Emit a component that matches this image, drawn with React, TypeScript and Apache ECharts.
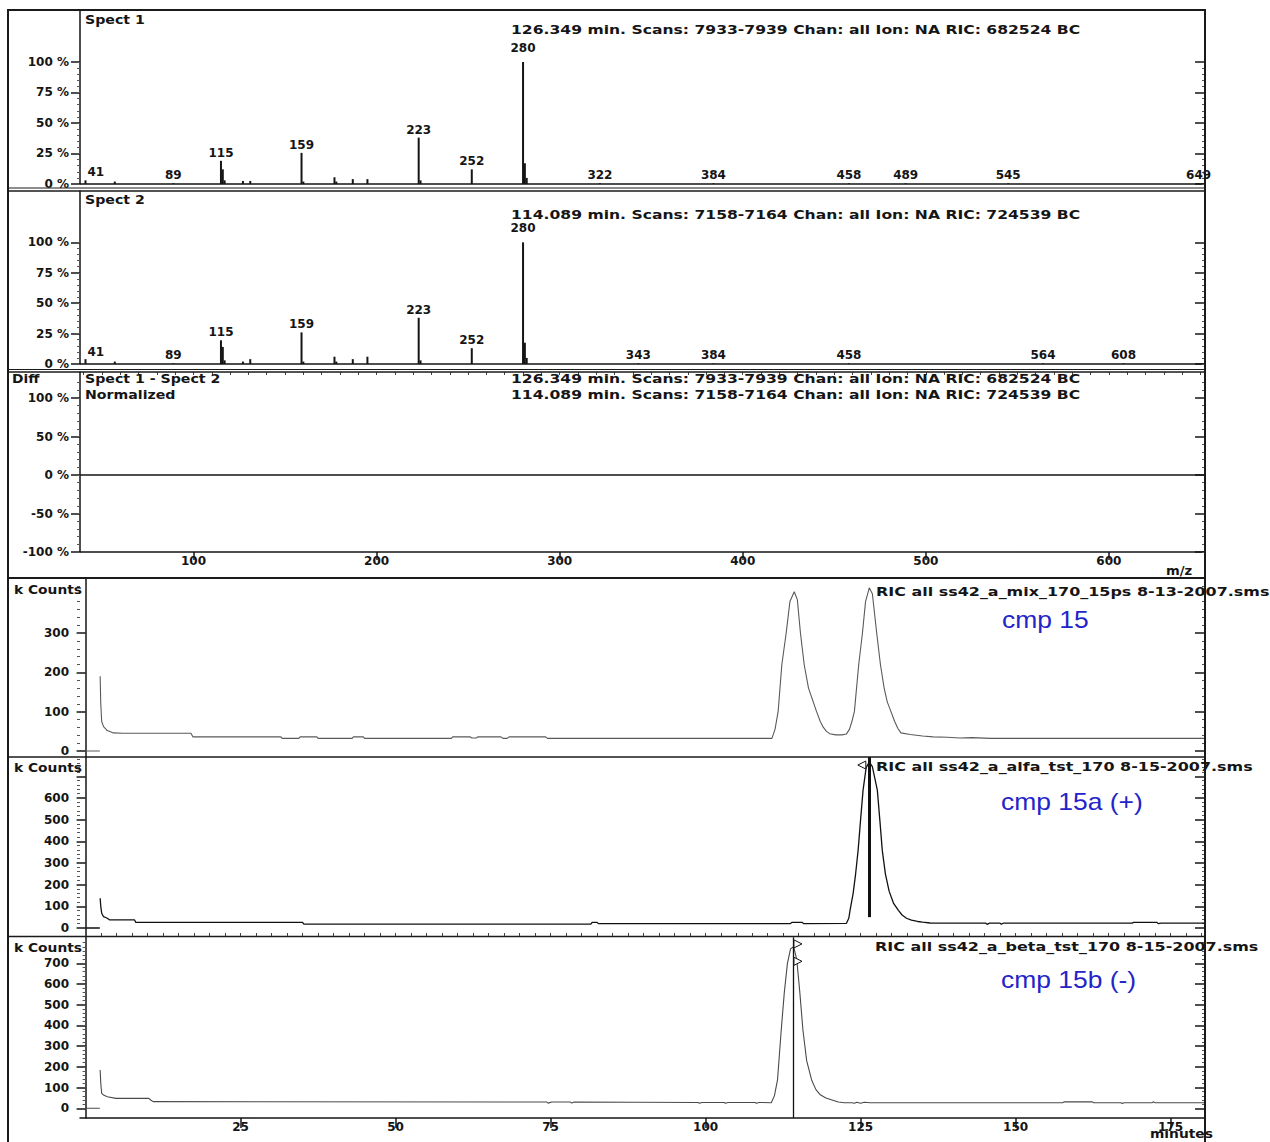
import React, { useEffect, useRef } from "react";
import * as echarts from "echarts";

// ---------- Mass spectra (m/z, relative abundance %) ----------
const spect1Mz = [41, 57, 89, 115, 116, 117, 127, 131, 159, 160, 177, 178, 187, 195, 223, 224, 252, 280, 281, 282, 322, 384, 458, 489, 545, 649];
const spect1Pct = [3, 2, 0.6, 19, 12, 3, 2.5, 2.5, 25.5, 2, 5.5, 2, 4, 4, 38, 3, 12, 100, 17, 5, 0.6, 0.6, 0.6, 0.6, 0.6, 0.6];
const spect1Labels = [41, 89, 115, 159, 223, 252, 280, 322, 384, 458, 489, 545, 649];

const spect2Mz = [41, 57, 89, 115, 116, 117, 127, 131, 159, 160, 177, 178, 187, 195, 223, 224, 252, 280, 281, 282, 343, 384, 458, 564, 608];
const spect2Pct = [4, 2, 0.6, 19.5, 14, 3, 2, 4, 26, 2, 6, 2, 4, 6, 38, 3, 13, 100, 17.5, 5, 0.6, 0.6, 0.6, 0.6, 0.6];
const spect2Labels = [41, 89, 115, 159, 223, 252, 280, 343, 384, 458, 564, 608];

// Difference spectrum (Spect 1 - Spect 2, normalized): zero everywhere
const diffMz = [38, 652.5];
const diffPct = [0, 0];

// ---------- Chromatograms: [minutes, kCounts] ----------
const cmp15Trace: any[] = [
  [0, 0], [2.3, 0], [2.32, "-"], [2.35, 190], [2.45, 120], [2.6, 75], [2.9, 62], [3.5, 52], [4.5, 46], [6, 45],
  [17, 45], [17.3, 36], [31.5, 36], [31.7, 32], [34.4, 32], [34.6, 36], [37.3, 36], [37.5, 32], [43, 32], [43.2, 36],
  [44.8, 36], [45, 32], [59, 32], [59.2, 36], [62, 36], [62.3, 33], [63, 33], [63.3, 36], [67, 36], [67.3, 32],
  [68, 32], [68.3, 36], [74.2, 36], [74.5, 32], [110.7, 32], [111.2, 55], [111.7, 100], [112.3, 220], [113, 300],
  [113.6, 380], [114.3, 405], [114.8, 385], [115.3, 300], [115.9, 220], [116.6, 160], [117.9, 100], [118.5, 75],
  [119, 60], [119.5, 50], [120, 44], [121, 41], [122, 41], [122.7, 43], [123.2, 55], [123.6, 75], [124, 100],
  [124.7, 220], [125.3, 300], [125.8, 380], [126.4, 415], [126.9, 400], [127.6, 300], [128.2, 220], [128.8, 160],
  [129.3, 125], [129.9, 100], [130.5, 75], [131, 58], [131.5, 46], [133, 42], [135, 38], [136.7, 36], [139, 35],
  [141, 33], [143, 34], [146, 32], [180.5, 32],
];

const cmp15aTrace: any[] = [
  [0, 0], [2.3, 0], [2.32, "-"], [2.35, 137], [2.45, 100], [2.6, 68], [2.9, 52], [3.5, 45], [3.9, 37], [7.9, 37],
  [8.1, 26], [35, 26], [35.2, 18], [81.5, 18], [81.7, 26], [82.5, 26], [82.7, 20], [113.7, 20], [113.9, 26],
  [115.6, 26], [115.8, 20], [122.7, 21], [123.1, 45], [123.3, 81], [123.8, 160], [124.2, 250], [124.6, 358],
  [125, 500], [125.4, 636], [125.9, 740], [126.4, 766], [126.9, 745], [127.3, 690], [127.7, 636], [128.1, 500],
  [128.5, 358], [129, 250], [129.6, 170], [130.3, 115], [131.1, 81], [131.7, 60], [132.4, 45], [133.2, 36],
  [134.2, 30], [135, 27], [136.2, 23], [145.2, 22], [145.4, 17], [145.8, 22], [147.5, 22], [147.7, 17], [148, 22],
  [168.8, 22], [169, 26], [172.8, 26], [173, 20], [173.5, 22], [180.5, 22],
];

const cmp15bTrace: any[] = [
  [0, 0], [2.3, 0], [2.32, "-"], [2.35, 185], [2.45, 121], [2.6, 72], [2.9, 64], [3.5, 56], [4.9, 48], [10.2, 48],
  [10.5, 40], [10.9, 32], [74.4, 30], [74.6, 25], [75.2, 30], [78.2, 30], [78.4, 25], [78.8, 30], [98.8, 28],
  [99, 24], [99.4, 28], [103, 28], [103.2, 24], [103.6, 28], [108, 28], [108.2, 24], [108.6, 28], [110.6, 27],
  [111.1, 60], [111.6, 137], [112.2, 378], [112.7, 560], [113.2, 700], [113.7, 770], [114.2, 780], [114.7, 720],
  [115.2, 560], [115.7, 378], [116.3, 230], [117.1, 137], [117.8, 90], [118.5, 65], [119.4, 50], [120.4, 40],
  [121.4, 30], [122.4, 27], [123.6, 27], [124, 24], [124.4, 29], [125, 24], [125.6, 29], [126.5, 27], [153.4, 27],
  [157.6, 27], [157.8, 31], [162.4, 31], [162.6, 27], [167, 27], [167.2, 23], [167.5, 27], [172, 27], [172.2, 31],
  [172.5, 27], [180.5, 27],
];

const markerTime15a = 126.349;
const markerTime15b = 114.089;

// ---------- Tick labels ----------
const pctTicksSpect = [0, 25, 50, 75, 100];
const pctTicksDiff = [-100, -50, 0, 50, 100];
const mzTicks = [100, 200, 300, 400, 500, 600];
const timeTicks = [25, 50, 75, 100, 125, 150, 175];
const kTicks15 = [0, 100, 200, 300];
const kTicks15a = [0, 100, 200, 300, 400, 500, 600, 700];
const kLabels15a = [0, 100, 200, 300, 400, 500, 600];
const kTicks15b = [0, 100, 200, 300, 400, 500, 600, 700];

const hdr1 = "126.349 min. Scans: 7933-7939 Chan: all Ion: NA RIC: 682524 BC";
const hdr2 = "114.089 min. Scans: 7158-7164 Chan: all Ion: NA RIC: 724539 BC";

const SW = '"DejaVu Sans", sans-serif';
const INK = "#151515";

function steps(a: number, b: number, s: number) {
  const out: number[] = [];
  for (let v = a; v <= b + 1e-9; v += s) out.push(Math.round(v * 100) / 100);
  return out;
}

function yAxes(g: number, min: number, max: number, majors: number[], labels: number[], minors: number[], fmt: (v: number) => string) {
  const base: any = {
    type: "value", gridIndex: g, min, max,
    splitLine: { show: false }, axisLabel: { show: false }, axisTick: { show: false }, axisLine: { show: false },
  };
  return [
    {
      ...base, position: "left",
      axisLine: { show: true, lineStyle: { color: INK, width: 1.5 } },
      axisTick: { show: true, customValues: majors, length: 9, lineStyle: { color: INK, width: 1.5 } },
      axisLabel: { show: true, customValues: labels, formatter: fmt, margin: 11, color: INK, fontFamily: SW, fontWeight: "bold", fontSize: 12 },
    },
    { ...base, position: "left", axisTick: { show: true, customValues: minors, length: 3, lineStyle: { color: "#555", width: 1 } } },
    { ...base, position: "right", axisTick: { show: true, inside: true, customValues: majors, length: 10, lineStyle: { color: INK, width: 1.5 } } },
    { ...base, position: "right", axisTick: { show: true, inside: true, customValues: minors, length: 3, lineStyle: { color: "#555", width: 1 } } },
  ];
}

function spectrumSeries(mz: number[], pct: number[], labels: number[], g: number) {
  const set = new Set(labels);
  return {
    type: "bar", xAxisIndex: g, yAxisIndex: g * 4, barWidth: 2, z: 3,
    itemStyle: { color: INK },
    label: {
      show: true, position: "top", distance: 2, color: INK, fontFamily: SW, fontWeight: "bold", fontSize: 12,
      formatter: (p: any) => (set.has(p.value[0]) ? String(p.value[0]) : ""),
    },
    data: mz.map((m, i) => {
      const item: any = { value: [m, pct[i]] };
      if (m === labels[0]) item.label = { position: "right", distance: 1, offset: [0, -10] };
      if (pct[i] === 100) item.label = { distance: 8 };
      return item;
    }),
  };
}

export default function App() {
  const ref = useRef<HTMLDivElement>(null);
  useEffect(() => {
    if (!ref.current) return;
    const chart = echarts.init(ref.current, null, { renderer: "svg" });

    const grids = [
      { top: 10, height: 174 },
      { top: 191, height: 173 },
      { top: 372, height: 180 },
      { top: 578, height: 179 },
      { top: 757, height: 179 },
      { top: 937, height: 181 },
    ];
    const pctFmt = (v: number) => `${v} %`;
    const numFmt = (v: number) => `${v}`;

    const yAxis = [
      ...yAxes(0, 0, 142.6, pctTicksSpect, pctTicksSpect, steps(0, 100, 5), pctFmt),
      ...yAxes(1, 0, 142.2, pctTicksSpect, pctTicksSpect, steps(0, 100, 5), pctFmt),
      ...yAxes(2, -100, 133.8, pctTicksDiff, pctTicksDiff, steps(-100, 120, 10), pctFmt),
      ...yAxes(3, -15.3, 440, kTicks15, kTicks15, steps(0, 420, 20), numFmt),
      ...yAxes(4, -37, 789, kTicks15a, kLabels15a, steps(0, 780, 20), numFmt),
      ...yAxes(5, -47, 827.5, kTicks15b, kTicks15b, steps(0, 800, 20), numFmt),
    ];

    const mzBase: any = { type: "value", min: 38, max: 652.5, splitLine: { show: false } };
    const tBase: any = { type: "value", min: -0.9, max: 180.55, splitLine: { show: false } };
    const hiddenLine = { show: true, onZero: false, lineStyle: { color: INK, width: 1.5 } };
    const xAxis: any[] = [
      { ...mzBase, gridIndex: 0, axisLine: hiddenLine, axisTick: { show: false }, axisLabel: { show: false } },
      { ...mzBase, gridIndex: 1, axisLine: hiddenLine, axisTick: { show: false }, axisLabel: { show: false } },
      {
        ...mzBase, gridIndex: 2, axisLine: hiddenLine,
        axisTick: { show: true, customValues: mzTicks, length: 8, lineStyle: { color: INK, width: 1.5 } },
        axisLabel: { show: true, customValues: mzTicks, margin: 3, color: INK, fontFamily: SW, fontWeight: "bold", fontSize: 12 },
      },
      {
        ...mzBase, gridIndex: 2, axisLine: { show: false, onZero: false },
        axisTick: { show: true, inside: true, customValues: steps(40, 650, 10), length: 3, lineStyle: { color: "#444" } },
        axisLabel: { show: false },
      },
      { ...tBase, gridIndex: 3, show: false },
      { ...tBase, gridIndex: 4, show: false },
      {
        ...tBase, gridIndex: 5, axisLine: hiddenLine,
        axisTick: { show: true, customValues: timeTicks, length: 10, lineStyle: { color: INK, width: 1.5 } },
        axisLabel: { show: true, customValues: timeTicks, margin: 3, color: INK, fontFamily: SW, fontWeight: "bold", fontSize: 12 },
      },
      {
        ...tBase, gridIndex: 5, axisLine: { show: false, onZero: false },
        axisTick: { show: true, customValues: steps(2.5, 180, 2.5), length: 4, lineStyle: { color: "#444" } },
        axisLabel: { show: false },
      },
    ];

    const series: any[] = [
      spectrumSeries(spect1Mz, spect1Pct, spect1Labels, 0),
      spectrumSeries(spect2Mz, spect2Pct, spect2Labels, 1),
      {
        type: "line", xAxisIndex: 2, yAxisIndex: 8, showSymbol: false, silent: true,
        lineStyle: { color: INK, width: 1.5 },
        data: diffMz.map((m, i) => [m, diffPct[i]]),
      },
      {
        type: "line", xAxisIndex: 4, yAxisIndex: 12, showSymbol: false, silent: true,
        lineStyle: { color: "#5a5a5a", width: 1.1 }, data: cmp15Trace,
      },
      {
        type: "line", xAxisIndex: 5, yAxisIndex: 16, showSymbol: false, silent: true,
        lineStyle: { color: "#111", width: 1.3 }, data: cmp15aTrace,
        markLine: {
          silent: true, symbol: ["none", "none"], label: { show: false },
          lineStyle: { color: "#111", width: 3, type: "solid" },
          data: [[{ coord: [markerTime15a, 50] }, { coord: [markerTime15a, 789] }]],
        },
        markPoint: {
          silent: true, symbol: "triangle", symbolSize: 8, symbolRotate: 90, label: { show: false },
          itemStyle: { color: "#fff", borderColor: "#111", borderWidth: 1 },
          data: [{ coord: [125.2, 752] }],
        },
      },
      {
        type: "line", xAxisIndex: 6, yAxisIndex: 20, showSymbol: false, silent: true,
        lineStyle: { color: "#4a4a4a", width: 1.1 }, data: cmp15bTrace,
        markLine: {
          silent: true, symbol: ["none", "none"], label: { show: false },
          lineStyle: { color: "#111", width: 1.3, type: "solid" },
          data: [[{ coord: [markerTime15b, -46] }, { coord: [markerTime15b, 826] }]],
        },
        markPoint: {
          silent: true, symbol: "triangle", symbolSize: 8, symbolRotate: -90, label: { show: false },
          itemStyle: { color: "#fff", borderColor: "#111", borderWidth: 1 },
          data: [{ coord: [114.9, 794] }, { coord: [114.9, 710] }],
        },
      },
    ];

    const line = (x1: number, y1: number, x2: number, y2: number, w: number) => ({
      type: "line", z: 50, silent: true, shape: { x1, y1, x2, y2 }, style: { stroke: "#1a1a1a", lineWidth: w },
    });
    const swText = (x: number, y: number, text: string, sx = 1.3) => ({
      type: "text", z: 60, silent: true, x, y, scaleX: sx,
      style: { text, fill: INK, font: `bold 12px ${SW}`, textAlign: "left", textVerticalAlign: "middle", align: "left", verticalAlign: "middle" },
    });
    const blueText = (x: number, y: number, text: string) => ({
      type: "text", z: 60, silent: true, x, y, scaleX: 1.15,
      style: { text, fill: "#2424c8", font: `23px "Liberation Sans", Arial, sans-serif`, textAlign: "left", textVerticalAlign: "middle", align: "left", verticalAlign: "middle" },
    });

    const graphic = [
      { type: "rect", z: 50, silent: true, shape: { x: 8, y: 10, width: 1197, height: 1150 }, style: { fill: "none", stroke: "#1a1a1a", lineWidth: 2 } },
      line(8, 188, 1205, 188, 1),
      line(8, 191, 1205, 191, 1.5),
      line(8, 369.5, 1205, 369.5, 1),
      line(8, 372, 1205, 372, 1.5),
      line(8, 578, 1205, 578, 2),
      line(8, 757, 1205, 757, 1.5),
      line(8, 936.5, 1205, 936.5, 1.5),
      swText(85, 20, "Spect 1", 1.18),
      swText(511, 30, hdr1),
      swText(85, 200, "Spect 2", 1.18),
      swText(511, 215, hdr2),
      swText(12, 379, "Diff", 1.15),
      swText(85, 379, "Spect 1 - Spect 2", 1.18),
      swText(85, 395, "Normalized", 1.18),
      swText(511, 379, hdr1),
      swText(511, 395, hdr2),
      swText(1166, 571, "m/z", 1.1),
      swText(14, 590, "k Counts", 1.15),
      swText(876, 592, "RIC all ss42_a_mix_170_15ps 8-13-2007.sms", 1.33),
      swText(14, 768, "k Counts", 1.15),
      swText(876, 767, "RIC all ss42_a_alfa_tst_170 8-15-2007.sms", 1.33),
      swText(14, 948, "k Counts", 1.15),
      swText(875, 947, "RIC all ss42_a_beta_tst_170 8-15-2007.sms", 1.33),
      swText(1150, 1134, "minutes", 1.15),
      blueText(1002, 620, "cmp 15"),
      blueText(1001, 802, "cmp 15a (+)"),
      blueText(1001, 980, "cmp 15b (-)"),
    ];

    chart.setOption({
      animation: false,
      backgroundColor: "#ffffff",
      grid: grids.map((g) => ({ left: 80, width: 1125, top: g.top, height: g.height })),
      xAxis,
      yAxis,
      series,
      graphic: { elements: graphic },
    });
    return () => chart.dispose();
  }, []);

  return <div ref={ref} style={{ position: "absolute", left: 0, top: 0, width: 1270, height: 1142 }} />;
}
